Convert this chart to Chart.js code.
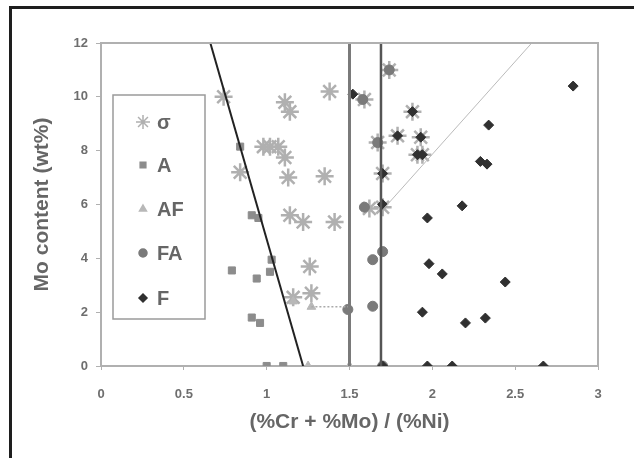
<!DOCTYPE html>
<html>
<head>
<meta charset="utf-8">
<script src="https://cdn.jsdelivr.net/npm/chart.js@4/dist/chart.umd.min.js"></script>
<style>
html,body{margin:0;padding:0;background:#fff;}
canvas{display:block;}
</style>
</head>
<body>
<canvas id="c" width="634" height="458"></canvas>
<script>
// ---- data ----
const xTicks = [0, 0.5, 1, 1.5, 2, 2.5, 3];
const yTicks = [0, 2, 4, 6, 8, 10, 12];
const legendLabels = ["σ", "A", "AF", "FA", "F"];

const sigmaPts = [[0.74,10.0],[0.84,7.2],[0.98,8.15],[1.02,8.15],[1.07,8.15],[1.11,9.8],[1.14,9.45],
  [1.11,7.75],[1.13,7.0],[1.38,10.2],[1.35,7.05],[1.14,5.6],[1.22,5.35],[1.41,5.35],[1.26,3.7],
  [1.16,2.55],[1.27,2.7],[1.74,11.0],[1.59,9.9],[1.88,9.45],[1.79,8.55],[1.93,8.5],[1.91,7.85],
  [1.94,7.85],[1.67,8.3],[1.70,7.15],[1.62,5.85],[1.70,5.9]];
const aPts = [[0.84,8.15],[0.91,5.6],[0.95,5.5],[0.79,3.55],[0.94,3.25],[1.03,3.95],[1.02,3.5],
  [0.91,1.8],[0.96,1.6],[1.0,0],[1.1,0]];
const afPts = [[1.27,2.2],[1.25,0],[1.5,0],[1.16,2.4]];
const faPts = [[1.59,5.9],[1.64,3.95],[1.64,2.22],[1.49,2.1],[1.58,9.9],[1.74,11.0],[1.67,8.3],[1.70,4.25],[1.70,0]];
const fPts = [[1.52,10.1],[1.88,9.45],[1.79,8.55],[1.93,8.5],[1.91,7.85],[1.94,7.85],[1.70,7.15],
  [1.70,6.0],[1.97,5.5],[1.98,3.8],[1.94,2.0],[1.97,0],[1.70,0],[2.18,5.95],[2.06,3.42],[2.44,3.12],
  [2.2,1.6],[2.32,1.78],[2.12,0],[2.67,0],[2.85,10.4],[2.34,8.95],[2.29,7.6],[2.33,7.5]];

const lineSigmaBound = [[0.66,12],[1.22,0]];
const lineAF = [[1.5,0],[1.5,12]];
const lineFA = [[1.69,0],[1.69,12]];
const lineDiag = [[1.70,5.8],[2.6,12]];
const lineDotted = [[1.27,2.2],[1.5,2.2]];

const toXY = a => a.map(p => ({x:p[0], y:p[1]}));

const pointSets = [
  {label:legendLabels[0], data:toXY(sigmaPts), pointStyle:'star', pointRadius:9, borderColor:'#b0b0b0', backgroundColor:'#b0b0b0', pointBorderWidth:2.5, order:6},
  {label:legendLabels[1], data:toXY(aPts), pointStyle:'rect', pointRadius:5, borderColor:'#8c8c8c', backgroundColor:'#8c8c8c', pointBorderWidth:1, order:5},
  {label:legendLabels[2], data:toXY(afPts), pointStyle:'triangle', pointRadius:5, borderColor:'#b8b8b8', backgroundColor:'#b8b8b8', pointBorderWidth:1, order:4},
  {label:legendLabels[3], data:toXY(faPts), pointStyle:'circle', pointRadius:5, borderColor:'#7a7a7a', backgroundColor:'#7a7a7a', pointBorderWidth:1, order:3},
  {label:legendLabels[4], data:toXY(fPts), pointStyle:'rectRot', pointRadius:5, borderColor:'#303030', backgroundColor:'#303030', pointBorderWidth:1, order:2},
];
const lineSets = [
  {data:toXY(lineSigmaBound), showLine:true, pointRadius:0, borderColor:'#222', borderWidth:2, order:1},
  {data:toXY(lineAF), showLine:true, pointRadius:0, borderColor:'#7a7a7a', borderWidth:3, order:1},
  {data:toXY(lineFA), showLine:true, pointRadius:0, borderColor:'#555', borderWidth:2.5, order:1},
  {data:toXY(lineDiag), showLine:true, pointRadius:0, borderColor:'#bbb', borderWidth:1, order:1},
  {data:toXY(lineDotted), showLine:true, pointRadius:0, borderColor:'#aaa', borderWidth:1.5, borderDash:[2,2], order:1},
];

const FONT = '"Liberation Sans", Arial, sans-serif';

const framePlugin = {
  id:'frame',
  beforeDraw(chart){
    const ctx = chart.ctx;
    ctx.save();
    ctx.fillStyle = '#fff';
    ctx.fillRect(0,0,chart.width,chart.height);
    ctx.strokeStyle = '#1e1e1e';
    ctx.lineWidth = 3;
    ctx.beginPath();
    ctx.moveTo(10.5, 458);
    ctx.lineTo(10.5, 7.5);
    ctx.lineTo(634, 7.5);
    ctx.stroke();
    ctx.restore();
  },
  afterDatasetsDraw(chart){
    const ctx = chart.ctx, a = chart.chartArea;
    ctx.save();
    ctx.strokeStyle = '#b0b0b0';
    ctx.lineWidth = 2;
    ctx.beginPath();
    ctx.moveTo(a.left, a.top);
    ctx.lineTo(a.right, a.top);
    ctx.lineTo(a.right, a.bottom);
    ctx.stroke();
    // legend box
    const bx = 113, by = 95, bw = 92, bh = 224;
    ctx.fillStyle = '#fff';
    ctx.fillRect(bx, by, bw, bh);
    ctx.strokeStyle = '#9a9a9a';
    ctx.lineWidth = 1.5;
    ctx.strokeRect(bx, by, bw, bh);
    const ys = [122, 165, 209, 253, 298];
    ctx.font = 'bold 20px ' + FONT;
    ctx.textBaseline = 'middle';
    ctx.textAlign = 'left';
    pointSets.forEach((ds, i) => {
      ctx.fillStyle = ds.backgroundColor;
      ctx.strokeStyle = ds.borderColor;
      Chart.helpers.drawPoint(ctx, {pointStyle: ds.pointStyle, radius: ds.pointStyle==='star'?7:4, borderWidth: ds.pointBorderWidth, rotation:0}, 143, ys[i]);
      ctx.fillStyle = '#666';
      ctx.fillText(ds.label, 157, ys[i] + 1);
    });
    ctx.restore();
  }
};

new Chart(document.getElementById('c'), {
  type:'scatter',
  data:{datasets:[...pointSets, ...lineSets]},
  options:{
    responsive:false,
    animation:false,
    layout:{padding:{top:43, right:36, left:26, bottom:19}},
    plugins:{legend:{display:false}, tooltip:{enabled:false}},
    scales:{
      x:{
        type:'linear', min:0, max:3,
        afterBuildTicks: s => { s.ticks = xTicks.map(v => ({value:v})); },
        afterFit: s => { s.height = 73; },
        grid:{display:true, drawOnChartArea:false, drawTicks:true, tickLength:4, color:'#b0b0b0'},
        border:{display:true, color:'#b0b0b0', width:2},
        ticks:{color:'#6e6e6e', font:{size:13, weight:'bold', family:FONT}, padding:17, maxRotation:0,
          callback: v => String(v)},
        title:{display:true, text:'(%Cr + %Mo) / (%Ni)', color:'#666', font:{size:21, weight:'bold', family:FONT}, padding:{top:4, bottom:4}}
      },
      y:{
        type:'linear', min:0, max:12,
        afterBuildTicks: s => { s.ticks = yTicks.map(v => ({value:v})); },
        afterFit: s => { s.width = 75; },
        grid:{display:true, drawOnChartArea:false, drawTicks:true, tickLength:5, color:'#b0b0b0'},
        border:{display:true, color:'#b0b0b0', width:2},
        ticks:{color:'#6e6e6e', font:{size:13, weight:'bold', family:FONT}, padding:8},
        title:{display:true, text:'Mo content (wt%)', color:'#666', font:{size:21, weight:'bold', family:FONT}, padding:{top:4, bottom:4}}
      }
    }
  },
  plugins:[framePlugin]
});
</script>
</body>
</html>
